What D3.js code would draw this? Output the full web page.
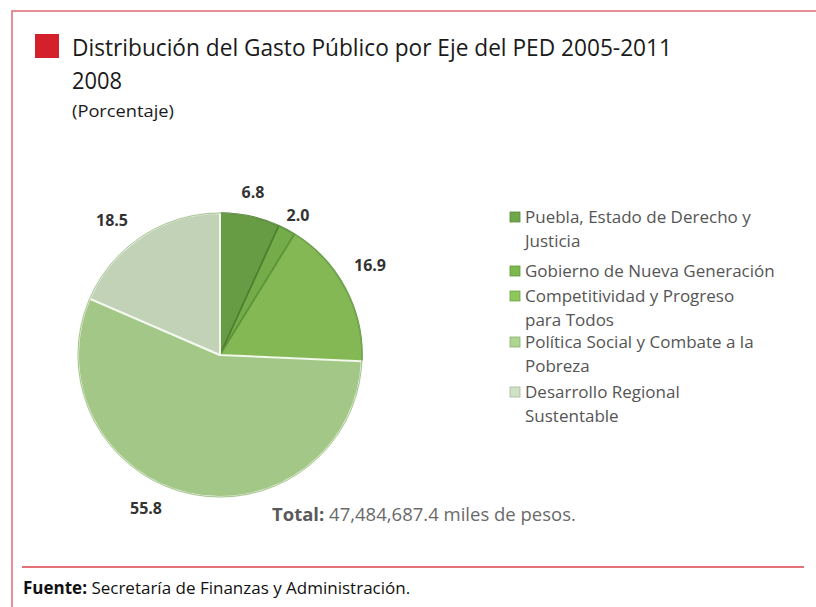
<!DOCTYPE html>
<html><head><meta charset="utf-8">
<script src="https://cdn.jsdelivr.net/npm/d3@7"></script>
<style>body{margin:0;background:#fff}svg{display:block}</style>
</head><body>
<script>
const categories = ["Puebla, Estado de Derecho y Justicia","Gobierno de Nueva Generación","Competitividad y Progreso para Todos","Política Social y Combate a la Pobreza","Desarrollo Regional Sustentable"];
const legendLines = [["Puebla, Estado de Derecho y","Justicia"],["Gobierno de Nueva Generación"],["Competitividad y Progreso","para Todos"],["Política Social y Combate a la","Pobreza"],["Desarrollo Regional","Sustentable"]];
const values = [6.8, 2.0, 16.9, 55.8, 18.5];
const labelText = ["6.8","2.0","16.9","55.8","18.5"];
const colors = ["#6fa84a","#7bb94d","#8dc65a","#aed690","#d0e2c4"];
const strokes = ["#4d7e30","#4d7e30","#5e9638","#f2f8ea","#f4f8f0"];
const title = "Distribución del Gasto Público por Eje del PED 2005-2011";
const subtitle = "2008";
const unit = "(Porcentaje)";

// layout (positions only), in data order
const labelPos = [[253,198],[298,221],[370,271],[146,514],[112,226]];
const legendY = [223,277,302,348,398];
const lineGap = 24;

const W=816,H=607;
const svg=d3.select("body").append("svg").attr("width",W).attr("height",H);
const font="'Open Sans', 'Noto Sans', sans-serif";

// frame
svg.append("path").attr("d",`M12,${H} V11 H${W}`).attr("fill","none").attr("stroke","#e06b72").attr("stroke-width",1.5);
svg.append("line").attr("x1",22).attr("x2",804).attr("y1",567).attr("y2",567).attr("stroke","#d9434b").attr("stroke-width",1.6);

// title
svg.append("rect").attr("x",35).attr("y",34).attr("width",24).attr("height",24).attr("fill","#d4202b");
svg.append("text").attr("x",72).attr("y",56).attr("font-family",font).attr("font-size",24).attr("fill","#1a1a1a").attr("textLength",600).attr("lengthAdjust","spacingAndGlyphs").text(title);
svg.append("text").attr("x",72).attr("y",89).attr("font-family",font).attr("font-size",24).attr("fill","#1a1a1a").attr("textLength",50).attr("lengthAdjust","spacingAndGlyphs").text(subtitle);
svg.append("text").attr("x",72).attr("y",117).attr("font-family",font).attr("font-size",17).attr("fill","#1a1a1a").attr("textLength",102).attr("lengthAdjust","spacingAndGlyphs").text(unit);

// pie
const cx=220, cy=355, R=142;
const defs=svg.append("defs");
colors.forEach((c,i)=>{
  const g=defs.append("radialGradient").attr("id","g"+i).attr("gradientUnits","userSpaceOnUse")
    .attr("cx",cx).attr("cy",cy).attr("r",R).attr("fx",cx-20).attr("fy",cy-30);
  g.append("stop").attr("offset","0%").attr("stop-color",d3.color(c).brighter(0.12));
  g.append("stop").attr("offset","88%").attr("stop-color",c);
  g.append("stop").attr("offset","100%").attr("stop-color",d3.color(c).darker(0.2));
});
const pie=d3.pie().sort(null).value(d=>d)(values);
const arc=d3.arc().innerRadius(0).outerRadius(R);
const pg=svg.append("g").attr("transform",`translate(${cx},${cy})`);
pg.selectAll("path").data(pie).join("path").attr("d",arc)
  .attr("fill",(d,i)=>`url(#g${i})`).attr("stroke",(d,i)=>strokes[i]).attr("stroke-width",(d,i)=>i<3?1.6:2).attr("stroke-linejoin","round");
pg.append("circle").attr("r",R).attr("fill","none").attr("stroke","#86ad6c").attr("stroke-width",1).attr("stroke-opacity",0.7);

// labels
svg.selectAll("text.lbl").data(pie).join("text").attr("class","lbl")
  .attr("x",(d,i)=>labelPos[i][0]).attr("y",(d,i)=>labelPos[i][1])
  .attr("text-anchor","middle").attr("font-family",font).attr("font-weight","bold").attr("font-size",16).attr("fill","#333")
  .text((d,i)=>labelText[i]);

// legend
const leg=svg.append("g");
legendLines.forEach((lines,i)=>{
  const y=legendY[i];
  leg.append("rect").attr("x",510).attr("y",y-11).attr("width",10).attr("height",10).attr("fill",colors[i]).attr("stroke",d3.color(colors[i]).darker(0.6)).attr("stroke-width",0.8);
  lines.forEach((t,j)=>{
    leg.append("text").attr("x",525).attr("y",y+j*lineGap).attr("font-family",font).attr("font-size",17).attr("fill","#555").text(t);
  });
});

// total
const tt=svg.append("text").attr("x",272).attr("y",521).attr("font-family",font).attr("font-size",18.5).attr("fill","#6a6a6a");
tt.append("tspan").attr("font-weight","bold").attr("fill","#5a5a5a").text("Total:");
tt.append("tspan").text(" 47,484,687.4 miles de pesos.");

// source
const st=svg.append("text").attr("x",23).attr("y",594).attr("font-family",font).attr("font-size",17).attr("fill","#111");
st.append("tspan").attr("font-weight","bold").text("Fuente:");
st.append("tspan").text(" Secretaría de Finanzas y Administración.");
</script>
</body></html>
